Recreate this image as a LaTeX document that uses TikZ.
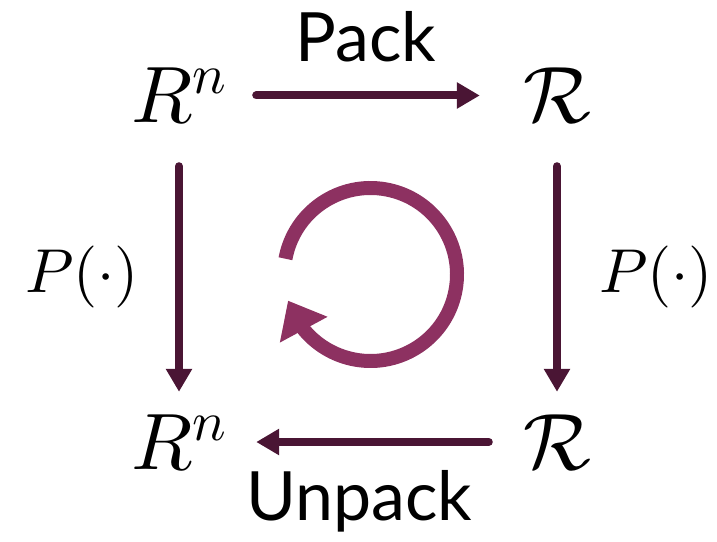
\documentclass[tikz,border=0pt]{standalone}
\usepackage[no-math]{fontspec}
\newfontfamily\labelfont{Lato}
\DeclareFontFamily{OML}{cmm}{\skewchar\font'177}
\DeclareFontShape{OML}{cmm}{m}{it}{<->cmmi10}{}
\DeclareFontFamily{OMS}{cmsy}{\skewchar\font'60}
\DeclareFontShape{OMS}{cmsy}{m}{n}{<->cmsy10}{}
\DeclareFontFamily{OMX}{cmex}{}
\DeclareFontShape{OMX}{cmex}{m}{n}{<->cmex10}{}
\DeclareFontFamily{OT1}{cmr}{\hyphenchar\font45 }
\DeclareFontShape{OT1}{cmr}{m}{n}{<->cmr10}{}
\usetikzlibrary{arrows.meta,bending}
\definecolor{arrowdark}{RGB}{74,21,52}
\definecolor{cyclecol}{RGB}{141,49,97}
\begin{document}
\begin{tikzpicture}[x=1pt,y=1pt]
\useasboundingbox (0,0) rectangle (717,541);
\tikzset{
  obj/.style={minimum width=154pt, minimum height=100pt, inner sep=0pt, font=\fontsize{80}{96}\selectfont},
  mapArrow/.style={draw=arrowdark, line width=8pt, line cap=round, -{Triangle[length=23pt,width=25pt]}},
  lbl/.style={font=\labelfont\fontsize{68}{80}\selectfont, inner sep=0pt, anchor=base},
  fn/.style={font=\fontsize{62}{74}\selectfont, inner sep=0pt, anchor=base},
  cycleArrow/.style={draw=cyclecol, line width=14pt, -{Triangle[length=33pt,width=52pt,flex]}}
}
\node[obj] (a) at (179,445.5) {$R^n$\hspace{8pt}};
\node[obj] (b) at (557,445.5) {$\mathcal{R}$};
\node[obj] (c) at (179,99) {\raisebox{-3.5pt}{$R^n$}\hspace{8pt}};
\node[obj] (d) at (557,99) {\raisebox{-3.5pt}{$\mathcal{R}$}};
\node[lbl] (pack) at (366,479) {Pack};
\node[lbl] (unpack) at (359,21) {Unpack};
\node[fn] (pl) at (82,248) {$P(\cdot)$};
\node[fn] (pr) at (656,248) {$P(\cdot)$};
\draw[mapArrow] (a) -- (b);
\draw[mapArrow, shorten <=20.5pt] (a) -- (c);
\draw[mapArrow, shorten <=20.5pt] (b) -- (d);
\draw[mapArrow, shorten <=-9pt] (d) -- (c);
\coordinate (cyc) at (370.5,266.5);
\draw[cycleArrow] ([shift={(169.5:86.5)}]cyc) arc[start angle=169.5, end angle=-162.4, radius=86.5];
\end{tikzpicture}
\end{document}
